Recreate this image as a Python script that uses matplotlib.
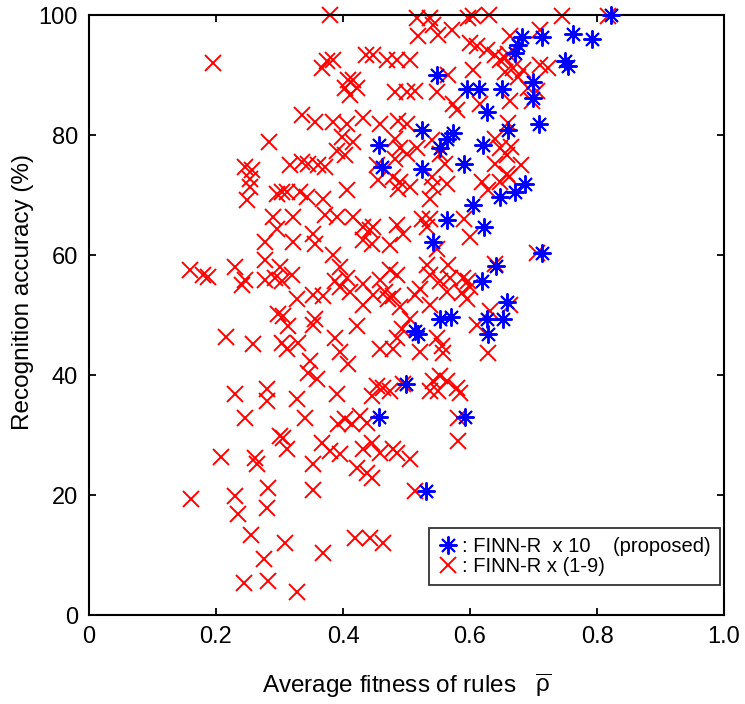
import matplotlib
matplotlib.use('Agg')
import matplotlib.pyplot as plt

plt.rcParams['font.family'] = ['Liberation Sans', 'DejaVu Sans']
plt.rcParams['mathtext.fontset'] = 'custom'
plt.rcParams['mathtext.rm'] = 'Liberation Sans'
plt.rcParams['mathtext.it'] = 'Liberation Sans'

# ---- data ----
# FINN-R x 10 (proposed), blue asterisks
blue_x = [0.822, 0.682, 0.713, 0.762, 0.792, 0.671, 0.750, 0.754, 0.699, 0.699,
          0.709, 0.671, 0.687, 0.548, 0.595, 0.614, 0.650, 0.627, 0.660, 0.524,
          0.573, 0.564, 0.553, 0.620, 0.457, 0.461, 0.524, 0.591, 0.605, 0.647,
          0.564, 0.622, 0.542, 0.641, 0.619, 0.658, 0.553, 0.570, 0.627, 0.652,
          0.628, 0.513, 0.518, 0.499, 0.457, 0.592, 0.713, 0.531, 0.676]
blue_y = [100.0, 96.4, 96.4, 96.8, 96.0, 93.7, 92.4, 91.5, 88.9, 86.2,
          81.8, 70.5, 71.8, 90.0, 87.7, 87.6, 87.6, 83.9, 80.8, 80.8,
          80.4, 79.3, 77.9, 78.4, 78.4, 74.6, 74.3, 75.1, 68.3, 69.7,
          65.8, 64.7, 62.2, 58.2, 55.6, 52.2, 49.4, 49.6, 49.3, 49.4,
          46.8, 47.3, 46.9, 38.5, 33.0, 33.0, 60.4, 20.7, 95.0]

# FINN-R x (1-9), red crosses
red_x = [
    # upper left
    0.195, 0.367, 0.375, 0.380, 0.335, 0.356, 0.283, 0.246, 0.257, 0.254,
    0.254, 0.317, 0.335, 0.345, 0.361, 0.372, 0.249, 0.296, 0.304, 0.312,
    0.332, 0.343, 0.369,
    # middle left
    0.290, 0.321, 0.296, 0.277, 0.321, 0.353, 0.356, 0.372, 0.277, 0.301,
    0.159, 0.180, 0.187, 0.230, 0.246, 0.241, 0.277, 0.293, 0.304, 0.320,
    0.328, 0.353, 0.369, 0.298, 0.306, 0.356, 0.313, 0.353, 0.216, 0.258,
    0.304, 0.312, 0.329, 0.348, 0.345, 0.359, 0.230, 0.280, 0.280, 0.328,
    # lower left
    0.246, 0.340, 0.301, 0.306, 0.312, 0.367, 0.208, 0.261, 0.265, 0.353,
    0.161, 0.230, 0.235, 0.282, 0.280, 0.353, 0.255, 0.309, 0.276, 0.369,
    0.244, 0.282, 0.328,
    # lower middle
    0.392, 0.414, 0.427, 0.438, 0.581, 0.581, 0.395, 0.422, 0.432, 0.446,
    0.438, 0.446, 0.458, 0.479, 0.485, 0.506, 0.380, 0.513, 0.419, 0.443,
    0.463, 0.403, 0.495,
    # upper middle
    0.516, 0.537, 0.542, 0.597, 0.605, 0.630, 0.518, 0.550, 0.572, 0.600,
    0.611, 0.627, 0.639, 0.647, 0.655, 0.384, 0.437, 0.447, 0.469, 0.485,
    0.506, 0.605, 0.565, 0.408, 0.416, 0.403, 0.422, 0.411, 0.482, 0.501,
    0.513, 0.548, 0.573, 0.580, 0.616, 0.384, 0.406, 0.432, 0.458, 0.487,
    0.501, 0.398, 0.416, 0.391, 0.482, 0.490, 0.540, 0.516, 0.639, 0.647,
    0.658, 0.403, 0.454, 0.482, 0.501, 0.561, 0.553, 0.639, 0.406, 0.455,
    0.479, 0.490, 0.487, 0.506, 0.540, 0.542, 0.537, 0.564, 0.619, 0.628,
    0.647, 0.658, 0.660, 0.655,
    # centre
    0.391, 0.416, 0.432, 0.443, 0.447, 0.432, 0.446, 0.485, 0.494, 0.474,
    0.524, 0.537, 0.532, 0.548, 0.532, 0.565, 0.589, 0.597, 0.600, 0.587,
    0.595, 0.384, 0.395, 0.406, 0.387, 0.395, 0.411, 0.432, 0.458, 0.466,
    0.471, 0.479, 0.490, 0.432, 0.447, 0.474, 0.485, 0.521, 0.513, 0.537,
    0.553, 0.569, 0.537, 0.564, 0.422, 0.387, 0.395, 0.408, 0.458, 0.479,
    0.485, 0.521, 0.548, 0.556, 0.558, 0.493, 0.506, 0.611, 0.632, 0.628,
    0.454, 0.463, 0.474, 0.446, 0.391, 0.542, 0.553, 0.564, 0.580, 0.550,
    0.537, 0.584, 0.590, 0.600, 0.640,
    # upper right
    0.745, 0.817, 0.710, 0.663, 0.668, 0.683, 0.710, 0.723, 0.676, 0.691,
    0.706, 0.698, 0.663, 0.705, 0.663, 0.660, 0.665, 0.680, 0.662,
]
red_y = [
    92.0, 91.2, 92.4, 100.0, 83.4, 82.1, 78.8, 74.6, 74.1, 72.6,
    71.3, 75.0, 75.5, 75.1, 75.0, 74.6, 69.2, 70.2, 70.5, 70.5,
    70.5, 69.7, 69.3,
    66.3, 66.3, 64.3, 62.2, 62.2, 63.5, 61.9, 66.7, 59.2, 58.0,
    57.5, 56.7, 56.4, 58.0, 55.9, 55.0, 55.9, 56.1, 55.6, 56.7,
    52.6, 53.4, 53.1, 50.2, 49.8, 49.4, 48.1, 48.4, 46.3, 45.1,
    45.3, 44.4, 45.3, 42.3, 40.3, 39.3, 36.8, 37.6, 35.7, 36.0,
    32.8, 32.8, 29.9, 29.5, 27.7, 28.7, 26.4, 26.2, 25.2, 25.2,
    19.4, 19.9, 16.9, 21.1, 17.9, 20.9, 13.3, 12.0, 9.3, 10.3,
    5.3, 5.6, 3.8,
    31.8, 31.8, 33.2, 32.0, 32.8, 29.0, 26.9, 24.5, 27.7, 28.7,
    23.7, 22.9, 27.0, 27.7, 27.0, 26.0, 27.4, 20.7, 12.9, 12.9,
    12.0, 32.7, 38.5,
    99.5, 99.5, 98.3, 99.5, 99.8, 100.0, 96.5, 96.7, 97.5, 95.4,
    94.9, 94.2, 93.4, 92.5, 92.9, 92.5, 93.4, 93.4, 92.5, 92.5,
    92.5, 90.9, 90.0, 89.2, 89.2, 87.9, 87.9, 86.7, 87.1, 87.1,
    87.4, 87.1, 85.1, 84.2, 85.1, 82.1, 81.8, 82.9, 81.8, 82.4,
    81.8, 79.6, 78.8, 77.4, 79.3, 77.9, 79.1, 77.9, 79.3, 77.9,
    76.6, 76.6, 75.0, 76.0, 76.8, 75.1, 76.8, 75.1, 70.8, 72.5,
    73.0, 72.1, 71.0, 71.3, 73.0, 71.3, 69.3, 71.8, 72.1, 70.8,
    72.1, 73.5, 93.5, 90.5,
    66.3, 66.3, 64.7, 64.2, 64.7, 62.5, 61.9, 65.0, 63.5, 61.7,
    66.0, 66.0, 64.7, 61.0, 58.4, 58.4, 56.1, 55.6, 54.7, 53.6,
    52.7, 60.0, 58.0, 56.1, 55.6, 54.7, 53.9, 55.1, 55.9, 53.9,
    52.6, 53.1, 51.4, 51.7, 53.4, 57.5, 56.7, 54.4, 53.4, 56.7,
    55.6, 56.1, 51.7, 53.9, 48.1, 46.1, 43.9, 41.8, 44.4, 44.4,
    46.1, 43.9, 46.1, 44.8, 43.6, 47.6, 49.4, 48.4, 50.6, 43.6,
    38.1, 37.8, 37.3, 36.5, 36.8, 39.0, 39.8, 39.0, 37.8, 37.3,
    37.3, 37.0, 66.0, 63.0, 58.5,
    99.8, 99.8, 97.5, 96.5, 91.2, 90.9, 91.7, 91.2, 89.6, 87.9,
    87.4, 85.7, 85.7, 60.4, 51.7, 82.0, 78.0, 75.0, 73.0,
]

x_ticks = [0, 0.2, 0.4, 0.6, 0.8, 1.0]
x_tick_labels = ['0', '0.2', '0.4', '0.6', '0.8', '1.0']
y_ticks = [0, 20, 40, 60, 80, 100]

fig = plt.figure(figsize=(7.45, 7.04), dpi=100)
ax = fig.add_axes([89 / 745, 1 - 615 / 704, 635 / 745, 600 / 704])

ax.plot(red_x, red_y, linestyle='none', marker='x', color='red',
        markersize=12, markeredgewidth=1.4, clip_on=False, zorder=2,
        label=': FINN-R x (1-9)')
ax.plot(blue_x, blue_y, linestyle='none', marker=(8, 2, 0), color='blue',
        markersize=13, markeredgewidth=1.4, clip_on=False, zorder=3,
        label=': FINN-R  x 10    (proposed)')

ax.set_xlim(0, 1.0)
ax.set_ylim(0, 100)
ax.set_xticks(x_ticks)
ax.set_xticklabels(x_tick_labels)
ax.set_yticks(y_ticks)
ax.tick_params(direction='in', top=True, right=True, length=5, width=1.3,
               labelsize=17, pad=8)
for sp in ax.spines.values():
    sp.set_linewidth(1.5)

ax.set_xlabel(r'Average fitness of rules   $\overline{\rho}$', fontsize=17.5)
ax.xaxis.set_label_coords(0.5, -0.095)
ax.set_ylabel('Recognition accuracy (%)', fontsize=17.5)
ax.yaxis.set_label_coords(-0.087, 0.538)

handles, labels = ax.get_legend_handles_labels()
leg = ax.legend(handles[::-1], labels[::-1], loc='upper left',
                bbox_to_anchor=(0.535, 0.145), fontsize=14.5, frameon=True,
                fancybox=False, handlelength=1.0, handletextpad=0.2,
                borderpad=0.45, labelspacing=0.05, borderaxespad=0)
leg.get_frame().set_edgecolor('black')
leg.get_frame().set_linewidth(1.3)

fig.savefig('out.png', dpi=100)
